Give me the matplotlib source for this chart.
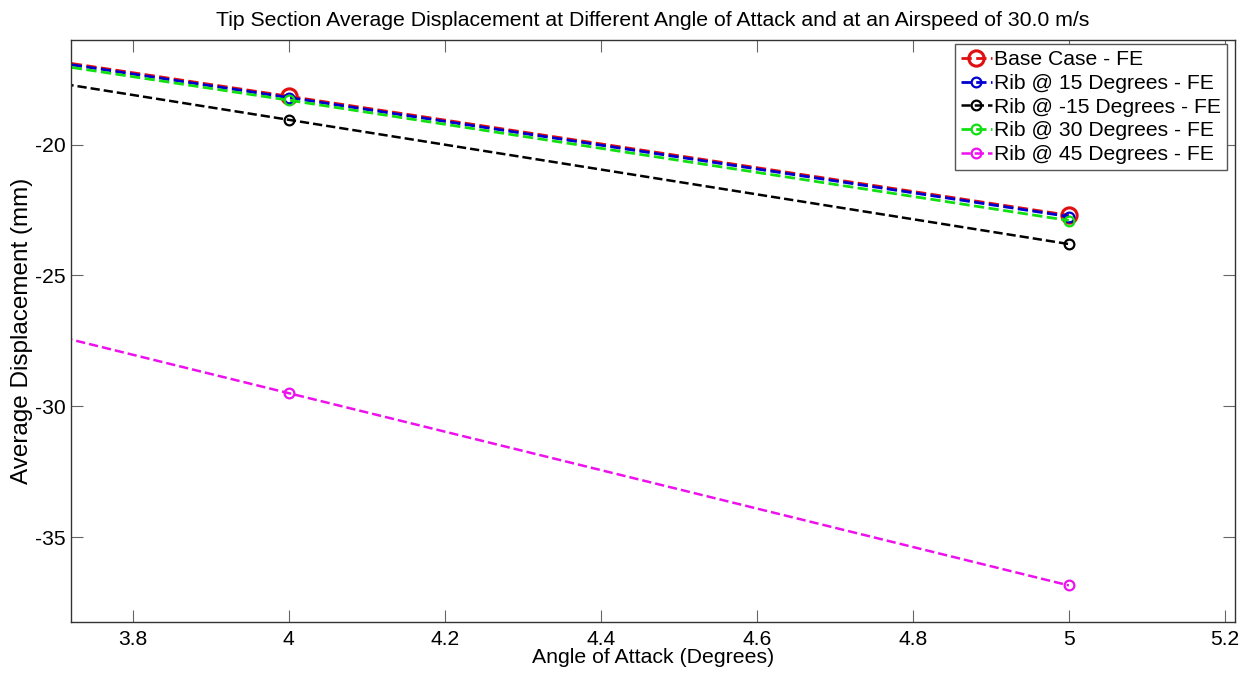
import numpy as np
import matplotlib.pyplot as plt

plt.rcParams['font.family'] = ['Liberation Sans', 'DejaVu Sans']
plt.rcParams['axes.unicode_minus'] = False

# angle of attack (the 3 deg point is off to the left of the view)
aoa = [3.0, 4.0, 5.0]

base_case = [-13.65, -18.15, -22.70]
rib_15 = [-13.70, -18.20, -22.75]
rib_m15 = [-14.30, -19.05, -23.80]
rib_30 = [-13.80, -18.30, -22.90]
rib_45 = [-22.15, -29.50, -36.85]

labels = ['Base Case - FE', 'Rib @ 15 Degrees - FE', 'Rib @ -15 Degrees - FE',
          'Rib @ 30 Degrees - FE', 'Rib @ 45 Degrees - FE']

fig = plt.figure(figsize=(12.52, 6.77), dpi=100)
ax = fig.add_axes([0.0567, 0.0812, 0.9297, 0.8597])

ax.plot(aoa, base_case, '--o', color='#e01010', lw=2, ms=11, mew=2.2, mfc='none', label=labels[0])
ax.plot(aoa, rib_15, '--o', color='#0000d0', lw=2, ms=7, mew=1.6, mfc='none', label=labels[1])
ax.plot(aoa, rib_m15, '--o', color='black', lw=1.8, ms=7, mew=1.6, mfc='none', label=labels[2])
ax.plot(aoa, rib_30, '--o', color='#10e010', lw=2, ms=7, mew=1.6, mfc='none', label=labels[3])
ax.plot(aoa, rib_45, '--o', color='#ee10ee', lw=1.8, ms=7, mew=1.6, mfc='none', label=labels[4])

ax.set_xlim(3.721, 5.213)
ax.set_ylim(-38.25, -16.0)
ax.set_xticks([3.8, 4, 4.2, 4.4, 4.6, 4.8, 5, 5.2])
ax.set_xticklabels(['3.8', '4', '4.2', '4.4', '4.6', '4.8', '5', '5.2'])
ax.set_yticks([-35, -30, -25, -20])
ax.tick_params(direction='in', top=True, right=True, length=8.6, width=0.8,
               color='#666666', labelsize=15.2, pad=6)
ax.tick_params(axis='y', pad=4)
for s in ax.spines.values():
    s.set_color('#333333')
    s.set_linewidth(1.0)

ax.set_xlabel('Angle of Attack (Degrees)', fontsize=15.3, labelpad=-1)
ax.set_ylabel('Average Displacement (mm)', fontsize=17.5, labelpad=1)
ax.set_title('Tip Section Average Displacement at Different Angle of Attack and at an Airspeed of 30.0 m/s',
             fontsize=15.3, pad=10)

leg = ax.legend(loc='upper right', bbox_to_anchor=(1227 / 1252, 1 - 44 / 677),
                bbox_transform=fig.transFigure, borderaxespad=0,
                fontsize=15.2, handlelength=1.45, handletextpad=0.1,
                fancybox=False, framealpha=1, edgecolor='#555555',
                labelspacing=0.22, borderpad=0.3)
leg.get_frame().set_linewidth(1.0)

fig.savefig('out.png', dpi=100)
